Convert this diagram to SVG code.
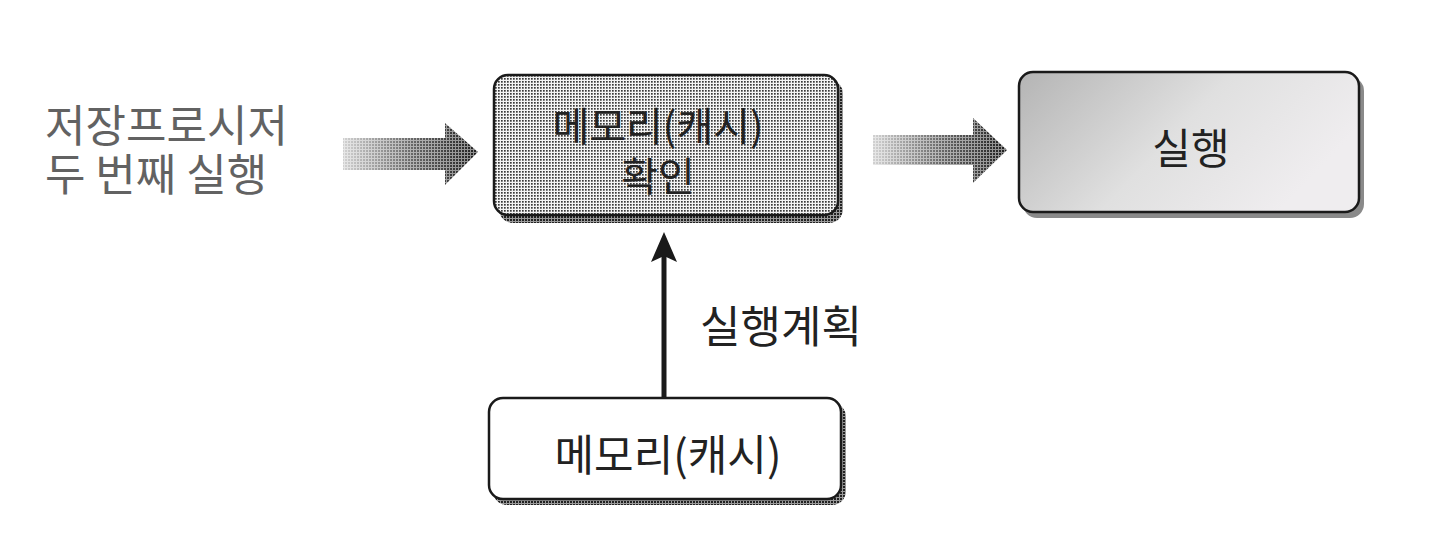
<svg xmlns="http://www.w3.org/2000/svg" width="1440" height="542" viewBox="0 0 1440 542">
<style>
  .t { font-family: "Noto Sans CJK KR", "Noto Sans", sans-serif; fill: #222; }
  .lbl { font-family: "Noto Sans CJK KR", "Noto Sans", sans-serif; fill: #626262; }
  .box { stroke: #1a1a1a; stroke-width: 2.5; }
  .fat { fill: url(#arrowDots); mask: url(#fade); }
</style>
<defs>
  <pattern id="dots" width="3" height="3" patternUnits="userSpaceOnUse">
    <rect width="3" height="3" fill="#f4f4f4"/>
    <rect x="0" y="0" width="1.7" height="1.7" fill="#3a3a3a"/>
  </pattern>
  <pattern id="shadowDots" width="3" height="3" patternUnits="userSpaceOnUse">
    <rect width="3" height="3" fill="#9a9a9a"/>
    <rect x="0" y="0" width="2" height="2" fill="#222"/>
  </pattern>
  <pattern id="arrowDots" width="3" height="3" patternUnits="userSpaceOnUse">
    <rect width="3" height="3" fill="#8c8c8c"/>
    <rect x="0" y="0" width="2" height="2" fill="#1e1e1e"/>
  </pattern>
  <linearGradient id="fadeGrad" x1="0" y1="0" x2="1" y2="0">
    <stop offset="0" stop-color="#333"/>
    <stop offset="0.5" stop-color="#aaa"/>
    <stop offset="1" stop-color="#fff"/>
  </linearGradient>
  <mask id="fade" maskContentUnits="objectBoundingBox">
    <rect x="0" y="0" width="1" height="1" fill="url(#fadeGrad)"/>
  </mask>
  <linearGradient id="box2grad" x1="0" y1="0" x2="1" y2="0.4">
    <stop offset="0" stop-color="#b4b4b4"/>
    <stop offset="0.55" stop-color="#e0e0e0"/>
    <stop offset="1" stop-color="#efedef"/>
  </linearGradient>
</defs>
<rect width="1440" height="542" fill="#ffffff"/>

<g id="input-label">
  <text class="lbl" font-size="44"><tspan x="45" y="142">저장프로시저</tspan><tspan x="45" y="191">두 번째 실행</tspan></text>
</g>

<g id="connectors">
  <path class="fat" d="M343,138 L445,138 L445,123 L478,152 L445,185 L445,170 L343,170 Z"/>
  <path class="fat" d="M873,135 L973,135 L973,118 L1007,150 L973,183 L973,165 L873,165 Z"/>
  <line x1="664" y1="397" x2="664" y2="250" stroke="#1a1a1a" stroke-width="5"/>
  <path d="M664,232 L677,262 L664,256 L651,262 Z" fill="#1a1a1a"/>
  <text class="t" x="700" y="343" font-size="44">실행계획</text>
</g>

<g id="memory-check">
  <rect x="499" y="80" width="344" height="143" rx="14" fill="url(#shadowDots)"/>
  <rect class="box" x="494" y="75" width="344" height="140" rx="14" fill="url(#dots)"/>
  <text class="t" font-size="40" text-anchor="middle"><tspan x="658" y="141">메모리(캐시)</tspan><tspan x="658" y="191">확인</tspan></text>
</g>

<g id="execute">
  <rect x="1023" y="77" width="341" height="141" rx="14" fill="#8a8a8a"/>
  <rect class="box" x="1019" y="72" width="340" height="140" rx="14" fill="url(#box2grad)"/>
  <text class="t" x="1191" y="164" font-size="42" text-anchor="middle">실행</text>
</g>

<g id="memory-cache">
  <rect x="493" y="403" width="353" height="102" rx="14" fill="url(#shadowDots)"/>
  <rect class="box" x="489" y="398" width="352" height="101" rx="14" fill="#ffffff"/>
  <text class="t" x="668" y="471" font-size="43" text-anchor="middle">메모리(캐시)</text>
</g>
</svg>
